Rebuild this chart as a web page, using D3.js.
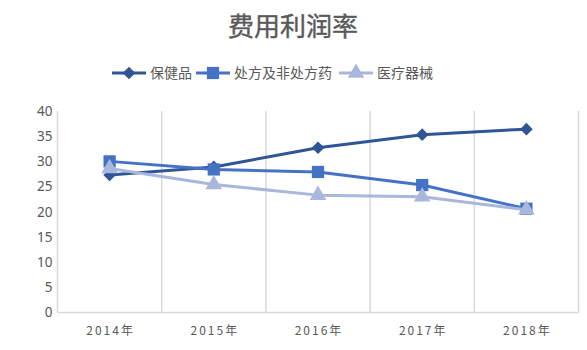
<!DOCTYPE html>
<html>
<head>
<meta charset="utf-8">
<script src="https://cdn.jsdelivr.net/npm/d3@7"></script>
<style>
  html, body { margin: 0; padding: 0; background: #fff; }
  svg { display: block; }
  text { font-family: "Noto Sans CJK SC", "Noto Sans", sans-serif; }
</style>
</head>
<body>
<svg id="chart" width="587" height="350"></svg>
<script>
// Categories and series
const years = ["2014年", "2015年", "2016年", "2017年", "2018年"];
const healthProducts = [27.3, 28.9, 32.7, 35.3, 36.4];   // 保健品
const drugs = [30.0, 28.4, 27.9, 25.3, 20.6];            // 处方及非处方药
const devices = [28.6, 25.4, 23.3, 23.0, 20.4];          // 医疗器械
const yTicks = [0, 5, 10, 15, 20, 25, 30, 35, 40];

const series = [
  { name: "保健品", values: healthProducts, color: "#2F5597", marker: "diamond" },
  { name: "处方及非处方药", values: drugs, color: "#4472C4", marker: "square" },
  { name: "医疗器械", values: devices, color: "#A9B7DD", marker: "triangle" }
];

const svg = d3.select("#chart");
const plotLeft = 57.5, plotRight = 578.5, plotTop = 111, plotBottom = 312.5;

const x = d3.scaleBand().domain(years).range([plotLeft, plotRight]);
const y = d3.scaleLinear().domain([0, 40]).range([plotBottom, plotTop]);

// Title
svg.append("text")
  .attr("x", 293).attr("y", 36)
  .attr("text-anchor", "middle")
  .attr("font-size", 26)
  .attr("fill", "#595959")
  .attr("stroke", "#595959")
  .attr("stroke-width", 0.4)
  .text("费用利润率");

// Vertical gridlines at category boundaries
const bounds = years.map(d => x(d)).concat([plotRight]);
svg.append("g").selectAll("line").data(bounds).join("line")
  .attr("x1", d => d).attr("x2", d => d)
  .attr("y1", plotTop).attr("y2", plotBottom)
  .attr("stroke", "#d9d9d9").attr("stroke-width", 1.5);

// Bottom axis line
svg.append("line")
  .attr("x1", plotLeft).attr("x2", plotRight)
  .attr("y1", plotBottom).attr("y2", plotBottom)
  .attr("stroke", "#d9d9d9").attr("stroke-width", 1.5);

// Y axis labels
const yAxis = d3.axisLeft(y).tickValues(yTicks).tickSize(0).tickPadding(0);
const gy = svg.append("g").attr("transform", `translate(${plotLeft - 5},0)`).call(yAxis);
gy.select(".domain").remove();
gy.selectAll("text")
  .attr("font-size", 13.5)
  .attr("fill", "#595959")
  .style("font-family", "'Noto Sans', sans-serif");

// X axis labels
const xAxis = d3.axisBottom(x).tickSize(0).tickPadding(0);
const gx = svg.append("g").attr("transform", `translate(0,${plotBottom + 12})`).call(xAxis);
gx.select(".domain").remove();
gx.selectAll("text")
  .attr("font-size", 12)
  .attr("fill", "#595959")
  .attr("letter-spacing", "2px")
  .attr("dx", "1px")
  .attr("dy", "0.9em");

// Marker shapes: the diamond is a square turned by 45 degrees
const markers = {
  diamond: { path: d3.symbol().type(d3.symbolSquare).size(80)(), rotate: 45 },
  square: { path: d3.symbol().type(d3.symbolSquare).size(150)(), rotate: 0 },
  triangle: { path: d3.symbol().type(d3.symbolTriangle).size(120)(), rotate: 0 }
};

const line = d3.line()
  .x((d, i) => x(years[i]) + x.bandwidth() / 2)
  .y(d => y(d));

series.forEach(s => {
  const g = svg.append("g");
  const m = markers[s.marker];
  g.append("path")
    .attr("d", line(s.values))
    .attr("fill", "none")
    .attr("stroke", s.color)
    .attr("stroke-width", 3)
    .attr("stroke-linejoin", "round");
  g.selectAll("path.m").data(s.values).join("path")
    .attr("class", "m")
    .attr("d", m.path)
    .attr("transform", (d, i) => `translate(${x(years[i]) + x.bandwidth() / 2},${y(d)}) rotate(${m.rotate})`)
    .attr("fill", s.color);
});

// Legend
const legendItems = [
  { x0: 112, tx: 150 },
  { x0: 196, tx: 234 },
  { x0: 339, tx: 377 }
];
const lg = svg.append("g");
series.forEach((s, i) => {
  const it = legendItems[i];
  const m = markers[s.marker];
  const ly = 73;
  lg.append("line")
    .attr("x1", it.x0).attr("x2", it.x0 + 34)
    .attr("y1", ly).attr("y2", ly)
    .attr("stroke", s.color).attr("stroke-width", 3);
  lg.append("path")
    .attr("d", m.path)
    .attr("transform", `translate(${it.x0 + 17},${ly}) rotate(${m.rotate})`)
    .attr("fill", s.color);
  lg.append("text")
    .attr("x", it.tx).attr("y", ly)
    .attr("dy", "0.35em")
    .attr("font-size", 14)
    .attr("fill", "#595959")
    .text(s.name);
});
</script>
</body>
</html>
